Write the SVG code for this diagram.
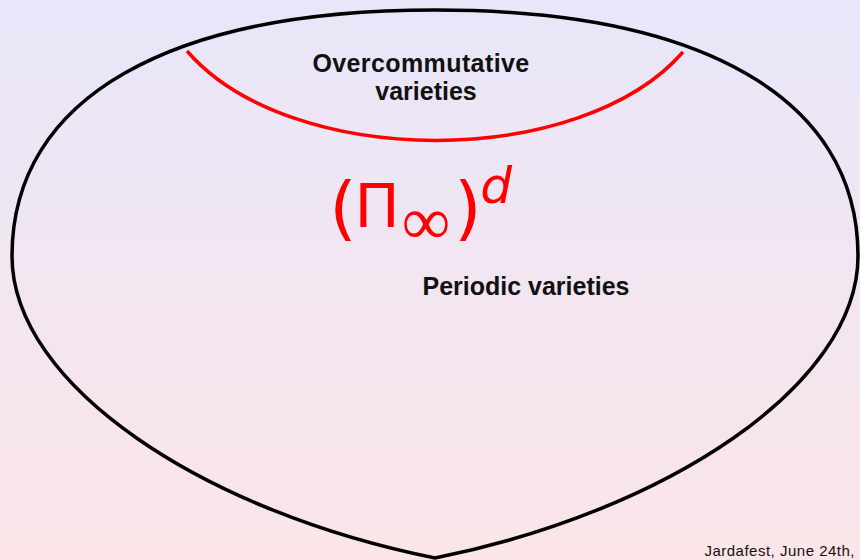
<svg xmlns="http://www.w3.org/2000/svg" width="860" height="560" viewBox="0 0 860 560">
  <defs>
    <linearGradient id="bg" x1="0" y1="0" x2="0" y2="1">
      <stop offset="0" stop-color="#e8e6f9"/>
      <stop offset="1" stop-color="#fbe5e8"/>
    </linearGradient>
  </defs>
  <style>
    .lbl { font-family: "Liberation Sans", Arial, sans-serif; font-weight: bold; font-size: 25px; fill: #111; }
    .math { font-family: "DejaVu Sans", sans-serif; fill: #f00; }
    .inf { font-family: "Liberation Serif", "Times New Roman", serif; fill: #f00; }
    .foot { font-family: "Liberation Sans", Arial, sans-serif; font-size: 15px; letter-spacing: 0.5px; fill: #111; }
  </style>
  <rect x="0" y="0" width="860" height="560" fill="url(#bg)"/>
  <g id="periodic">
    <path d="M 435 10 C 172 10 12 96 12 256 C 12 386 205 512 435 558 C 665 512 858 386 858 256 C 858 96 698 10 435 10 Z" fill="none" stroke="#000" stroke-width="3.5"/>
    <text class="lbl" x="526" y="295" text-anchor="middle">Periodic varieties</text>
  </g>
  <g id="overcommutative">
    <path d="M 187 51 C 290 170 580 170 683 52" fill="none" stroke="#f00" stroke-width="3.5"/>
    <text class="lbl" x="421" y="72" text-anchor="middle" letter-spacing="0.4">Overcommutative</text>
    <text class="lbl" x="426" y="100" text-anchor="middle">varieties</text>
  </g>
  <g id="formula">
    <text class="math" x="343" y="232" font-size="70" text-anchor="middle">(</text>
    <text class="math" x="377" y="227" font-size="60" text-anchor="middle">Π</text>
    <text class="inf" x="426" y="244" font-size="68" text-anchor="middle">∞</text>
    <text class="math" x="468" y="232" font-size="70" text-anchor="middle">)</text>
    <text class="math" x="496" y="203" font-size="50" font-style="italic" text-anchor="middle">d</text>
  </g>
  <text class="foot" x="855" y="556" text-anchor="end">Jardafest, June 24th,</text>
</svg>
